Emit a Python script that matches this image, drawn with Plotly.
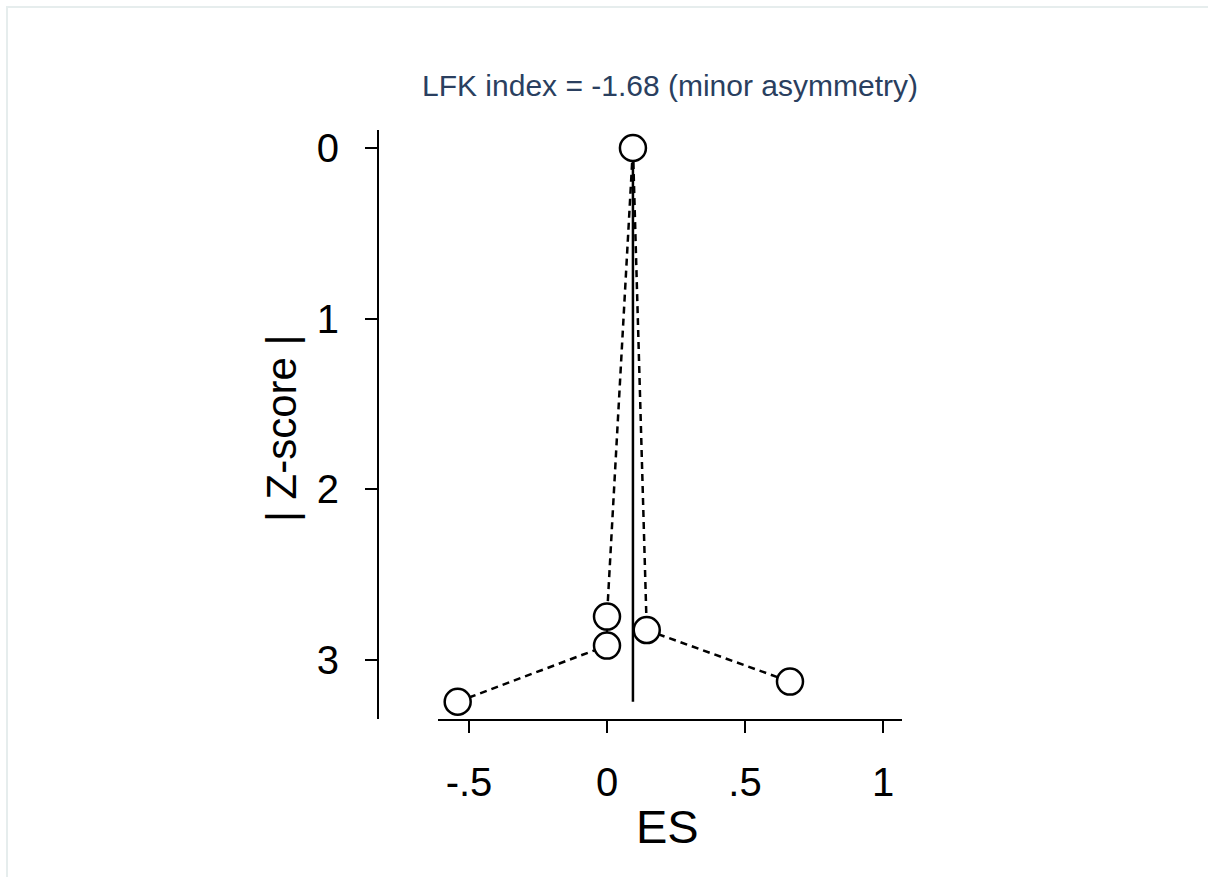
import plotly.graph_objects as go

# Data (Doi plot)
es = [-0.541, 0.0, 0.0, 0.094, 0.144, 0.663]
zscore = [3.244, 2.915, 2.745, 0.0, 2.824, 3.126]
pooled_es = 0.094
x_tickvals = [-0.5, 0, 0.5, 1]
x_ticktext = ["-.5", "0", ".5", "1"]
y_tickvals = [0, 1, 2, 3]
y_ticktext = ["0", "1", "2", "3"]
title_text = "LFK index = -1.68 (minor asymmetry)"

W, H = 1208, 877
ML, MR, MT, MB = 100, 100, 100, 100
PW, PH = W - ML - MR, H - MT - MB


def px(x):
    return (x - ML) / PW


def py(y):
    return 1 - (y - MT) / PH


FONT = "Liberation Sans, Arial, sans-serif"

fig = go.Figure()

# vertical line at pooled effect
fig.add_trace(go.Scatter(
    x=[pooled_es, pooled_es], y=[0, max(zscore)], mode="lines",
    line=dict(color="black", width=2.5), showlegend=False, hoverinfo="skip"))

# dashed line connecting points + markers
fig.add_trace(go.Scatter(
    x=es, y=zscore, mode="lines+markers",
    line=dict(color="black", width=2.5, dash="7px,5px"),
    marker=dict(size=26, color="white", line=dict(color="black", width=2.5)),
    showlegend=False))

fig.update_layout(
    width=W, height=H,
    margin=dict(l=ML, r=MR, t=MT, b=MB),
    paper_bgcolor="white", plot_bgcolor="white",
    font=dict(family=FONT, color="black"),
    xaxis=dict(
        domain=[px(438), px(902)],
        range=[(438 - 607) / 276, (902 - 607) / 276],
        tickvals=x_tickvals, ticktext=x_ticktext,
        showgrid=False, zeroline=False,
        showline=True, linecolor="black", linewidth=2,
        ticks="outside", ticklen=12, tickwidth=2, tickcolor="black",
        tickfont=dict(size=40, color="black", family=FONT),
        ticklabelstandoff=15,
        anchor="y",
    ),
    yaxis=dict(
        domain=[py(719), py(130)],
        range=[(719 - 148) / 170.7, (130 - 148) / 170.7],
        tickvals=y_tickvals, ticktext=y_ticktext,
        showgrid=False, zeroline=False,
        showline=True, linecolor="black", linewidth=2,
        ticks="outside", ticklen=12, tickwidth=2, tickcolor="black",
        tickfont=dict(size=40, color="black", family=FONT),
        ticklabelstandoff=18,
        anchor="free", position=px(378),
    ),
    annotations=[
        dict(text=title_text, xref="paper", yref="paper", x=px(670), y=py(85),
             xanchor="center", yanchor="middle", showarrow=False,
             font=dict(size=30, color="#2a3f5f", family=FONT)),
        dict(text="ES", xref="paper", yref="paper", x=px(667), y=py(826),
             xanchor="center", yanchor="middle", showarrow=False,
             font=dict(size=47, color="black", family=FONT)),
        dict(text="| Z-score |", xref="paper", yref="paper", x=px(281), y=py(428),
             xanchor="center", yanchor="middle", showarrow=False, textangle=-90,
             font=dict(size=42, color="black", family=FONT)),
    ],
    shapes=[
        dict(type="rect", xref="paper", yref="paper",
             x0=px(7), x1=px(1220), y0=py(7), y1=py(900),
             line=dict(color="#e6eded", width=2), fillcolor="rgba(0,0,0,0)",
             layer="below"),
    ],
)

fig.write_html("out.html")
